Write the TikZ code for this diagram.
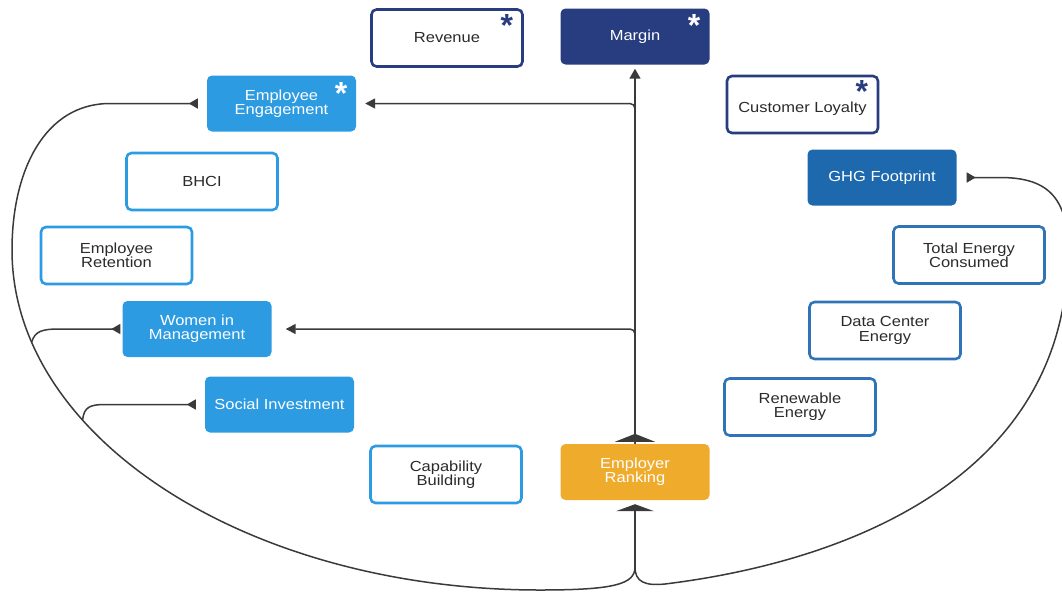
\documentclass[tikz,border=0pt]{standalone}
\usepackage{fontspec}
\setmainfont{Liberation Sans}[FakeStretch=1.13]
\newfontfamily\starfont{Liberation Sans}
\usetikzlibrary{arrows.meta}

\definecolor{navy}{HTML}{283C80}
\definecolor{sky}{HTML}{2C9BE1}
\definecolor{ghgblue}{HTML}{1E69AE}
\definecolor{steel}{HTML}{2F74B7}
\definecolor{amber}{HTML}{EEAB2C}
\definecolor{ink}{HTML}{2B2B2B}
\definecolor{wirecol}{HTML}{3A3A3A}

\tikzset{
  box/.style={rounded corners=5pt, align=center, inner sep=2pt,
    font=\fontsize{14.6}{14.2}\selectfont},
  outline/.style={box, draw=#1, line width=2.6pt, fill=white, text=ink,
    minimum width=151pt, minimum height=57pt},
  filled/.style={box, fill=#1, text=white,
    minimum width=149pt, minimum height=56pt},
  star/.style={anchor=north, inner sep=0pt, text=#1,
    font=\starfont\bfseries\fontsize{32}{32}\selectfont},
  wire/.style={draw=wirecol, line width=1.5pt},
  tipin/.style={-{Triangle[length=10pt,width=10pt]}},
  tipout/.style={-{Triangle[reversed,length=9pt,width=10pt]}},
}

\begin{document}
\begin{tikzpicture}[x=1pt,y=-1pt]
\useasboundingbox (0,0) rectangle (1062,592);

% boxes
\node[outline=navy]   (Rev)  at (447,38)      {Revenue};
\node[filled=navy]    (Mar)  at (635,36.5)    {Margin};
\node[filled=sky]     (EE)   at (281.5,103.5) {Employee\\Engagement};
\node[outline=navy]   (CL)   at (802.5,104.5) {\raisebox{-4pt}[7pt][0pt]{Customer Loyalty}};
\node[outline=sky]    (BHCI) at (202,181.5)   {BHCI};
\node[filled=ghgblue] (GHG)  at (882,177.5)   {GHG Footprint};
\node[outline=sky]    (Ret)  at (116.5,255.5) {Employee\\Retention};
\node[outline=steel]  (TEC)  at (969,255)     {Total Energy\\Consumed};
\node[filled=sky]     (WiM)  at (197,329)     {Women in\\Management};
\node[outline=steel]  (DCE)  at (885,330.5)   {Data Center\\Energy};
\node[filled=sky]     (SI)   at (279.5,404.5) {Social Investment};
\node[outline=steel]  (RE)   at (800,407)     {Renewable\\Energy};
\node[outline=sky]    (CB)   at (446,474.5)   {Capability\\Building};
\node[filled=amber]   (ERk)  at (635,472)     {Employer\\Ranking};

% asterisks
\node[star=navy]  (sRev) at ([xshift=-17pt,yshift=-6pt]Rev.north east) {*};
\node[star=white] (sMar) at ([xshift=-15.5pt,yshift=-5.5pt]Mar.north east) {*};
\node[star=white] (sEE)  at ([xshift=-15pt,yshift=-6.5pt]EE.north east) {*};
\node[star=navy]  (sCL)  at ([xshift=-17.5pt,yshift=-6pt]CL.north east) {*};

% trunk from Employer Ranking up to Margin, with its two branches
\draw[wire, {Triangle[reversed,length=8pt,width=40pt]}-{Triangle[length=10pt,width=11pt]},
      shorten <=2pt, shorten >=4pt] (ERk.north) -- (Mar.south);
\draw[wire, tipin, rounded corners=5pt, shorten >=9pt] (ERk.north) |- (EE.east);
\draw[wire, tipin, rounded corners=5pt, shorten >=14pt] (ERk.north) |- (WiM.east);

% lower loops
\coordinate (split) at (635,567);
\draw[wire, -{Triangle[length=7pt,width=38pt]}, shorten >=4pt] (split) -- (ERk.south);

\draw[wire, tipout, shorten >=9pt] (split)
  .. controls (635,584) and (615,590) .. (540,590)
  .. controls (248,590) and (12,438) .. (12,250)
  .. controls (12,170) and (45,103.5) .. (110,103.5) -- (EE.west);

\coordinate (wimfork) at (31.6,342.3);
\coordinate (sifork) at (82.6,420);
\draw[wire, tipout, shorten >=2pt] (wimfork)
  .. controls (35,331) and (42,329) .. (60,329) -- (WiM.west);
\draw[wire, tipout, shorten >=9pt] (sifork)
  .. controls (84,407) and (90,404.5) .. (105,404.5) -- (SI.west);

\draw[wire, tipout, shorten >=10pt] (split)
  .. controls (635,582) and (645,586) .. (665,584)
  .. controls (860,560) and (1068,470) .. (1068,250)
  .. controls (1068,195) and (1045,177.5) .. (1000,177.5) -- (GHG.east);
\end{tikzpicture}
\end{document}
